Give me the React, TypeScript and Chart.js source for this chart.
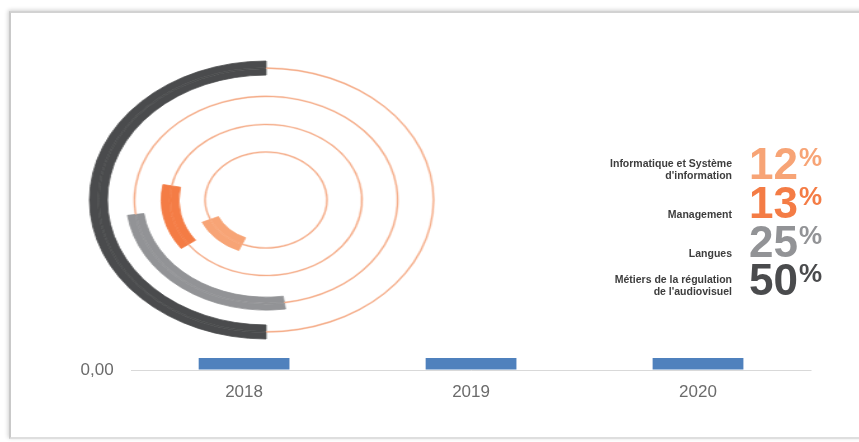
import React, { useEffect, useRef } from 'react';
import { Chart, registerables } from 'chart.js';

Chart.register(...registerables);

// ---- data ----
const years = ['2018', '2019', '2020'];
const barValues = [0.04, 0.04, 0.04];
const yTickValues = [0];

const domainLines = [
  ['Informatique et Système', "d'information"],
  ['Management'],
  ['Langues'],
  ['Métiers de la régulation', "de l'audiovisuel"],
];
const shares = [12, 13, 25, 50];

// ---- styles ----
const FONT = "'Liberation Sans', Arial, Helvetica, sans-serif";
const shareColors = ['#f7a476', '#f47c45', '#929396', '#4a4b4d'];
const ringOrder = [3, 2, 1, 0]; // outermost ring first
const ringRotations = [180, 172, 234, 203];
const bandParts = [
  [6.5, 1.1, 6.4],
  [5.9, 1.1, 5.9],
  [6.4, 1.1, 6.4],
  [6.4, 1.1, 6.4],
];
const ringGaps = [14.7, 14.5, 13.5];
const THIN = '#f5ae8b';
const CLEAR = 'rgba(0,0,0,0)';
const rowBaselines = [179, 218, 257, 295];

function buildRingDatasets() {
  const ds: any[] = [];
  ringOrder.forEach((idx, r) => {
    const v = shares[idx];
    const c = shareColors[idx];
    const data = [v, 100 - v];
    const [a, t, b] = bandParts[r];
    const rotation = ringRotations[r];
    ds.push({ data, weight: a, rotation, backgroundColor: [c, CLEAR], borderColor: [c, CLEAR], borderWidth: 0.8 });
    ds.push({ data, weight: t, rotation, backgroundColor: [c, THIN], borderColor: [c, THIN], borderWidth: 0.4 });
    ds.push({ data, weight: b, rotation, backgroundColor: [c, CLEAR], borderColor: [c, CLEAR], borderWidth: 0.8 });
    if (r < ringGaps.length) {
      ds.push({ data: [100], weight: ringGaps[r], backgroundColor: [CLEAR], borderColor: [CLEAR], borderWidth: 0 });
    }
  });
  return ds;
}

export default function App() {
  const barRef = useRef<HTMLCanvasElement>(null);
  const ringRef = useRef<HTMLCanvasElement>(null);

  useEffect(() => {
    const tickFont = { family: FONT, size: 17 };
    const bar = new Chart(barRef.current!, {
      type: 'bar',
      data: {
        labels: years,
        datasets: [
          {
            data: barValues,
            backgroundColor: '#4f81bd',
            barPercentage: 1,
            categoryPercentage: 0.4,
          },
        ],
      },
      options: {
        responsive: false,
        animation: false,
        events: [],
        layout: { padding: { left: 63.5, right: 47.5, top: 70, bottom: 27.6 } },
        plugins: { legend: { display: false }, tooltip: { enabled: false } },
        scales: {
          x: {
            grid: { display: false, drawTicks: false },
            border: { display: false },
            ticks: { color: '#6b6b6b', font: tickFont, padding: 12 },
          },
          y: {
            min: 0,
            max: 1,
            afterBuildTicks: (axis: any) => {
              axis.ticks = yTickValues.map((v) => ({ value: v }));
            },
            ticks: {
              color: '#6b6b6b',
              font: tickFont,
              padding: 17,
              callback: (v: any) => Number(v).toFixed(2).replace('.', ','),
            },
            grid: { color: '#d9d9d9', drawTicks: false, lineWidth: 1 },
            border: { display: false },
          },
        },
      },
    });

    const ring = new Chart(ringRef.current!, {
      type: 'doughnut',
      data: { labels: ['part', 'reste'], datasets: buildRingDatasets() },
      options: {
        responsive: false,
        animation: false,
        events: [],
        radius: 139,
        cutout: '29.5%',
        plugins: { legend: { display: false }, tooltip: { enabled: false } },
      } as any,
    });

    return () => {
      bar.destroy();
      ring.destroy();
    };
  }, []);

  return (
    <div
      style={{
        position: 'absolute',
        left: 0,
        top: 0,
        width: 859,
        height: 442,
        overflow: 'hidden',
        background: '#fff',
        fontFamily: FONT,
      }}
    >
      <div
        style={{
          position: 'absolute',
          left: 9,
          top: 11,
          width: 870,
          height: 424,
          borderLeft: '2px solid #c9c9c9',
          borderTop: '2px solid #d2d2d2',
          borderBottom: '2px solid #dedede',
          boxShadow: '-1px -1px 4px rgba(0,0,0,0.18)',
        }}
      />
      <canvas
        ref={barRef}
        width={859}
        height={442}
        style={{ position: 'absolute', left: 0, top: 0, width: 859, height: 442 }}
      />
      <canvas
        ref={ringRef}
        width={290}
        height={290}
        style={{
          position: 'absolute',
          left: 121,
          top: 55,
          width: 290,
          height: 290,
          transform: 'scaleX(1.27)',
          transformOrigin: '145px 145px',
        }}
      />
      {shares.map((v, i) => {
        const B = rowBaselines[i];
        const lines = domainLines[i];
        const labelTop = B - 9.64 - 12 * (lines.length - 1);
        return (
          <React.Fragment key={i}>
            <div
              style={{
                position: 'absolute',
                right: 127,
                top: labelTop,
                textAlign: 'right',
                whiteSpace: 'nowrap',
                fontSize: 10.5,
                lineHeight: '12px',
                fontWeight: 'bold',
                color: '#3d3d3d',
              }}
            >
              {lines.map((l, j) => (
                <div key={j}>{l}</div>
              ))}
            </div>
            <div
              style={{
                position: 'absolute',
                left: 749,
                top: B - 37.2,
                fontSize: 44,
                lineHeight: '44px',
                fontWeight: 'bold',
                color: shareColors[i],
                whiteSpace: 'nowrap',
              }}
            >
              {v}
              <span style={{ fontSize: 26, position: 'relative', top: -12.9, marginLeft: 1 }}>%</span>
            </div>
          </React.Fragment>
        );
      })}
    </div>
  );
}
